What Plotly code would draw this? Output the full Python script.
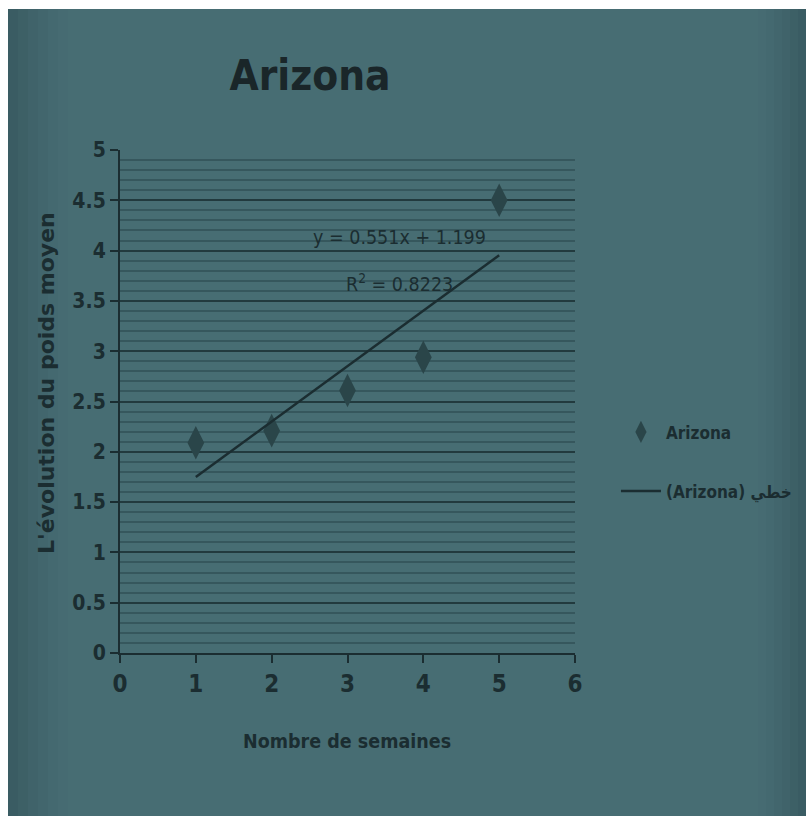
import plotly.graph_objects as go

weeks = [1, 2, 3, 4, 5]
weight = [2.09, 2.21, 2.61, 2.94, 4.5]
slope = 0.551
intercept = 1.199
r2 = 0.8223
x_ticks = [0, 1, 2, 3, 4, 5, 6]
y_ticks = [0, 0.5, 1, 1.5, 2, 2.5, 3, 3.5, 4, 4.5, 5]
y_tick_text = ["0", "0.5", "1", "1.5", "2", "2.5", "3", "3.5", "4", "4.5", "5"]

trend_x = [weeks[0], weeks[-1]]
trend_y = [slope * v + intercept for v in trend_x]

BG = "#476d73"
INK = "#1b2d31"
FONT = "DejaVu Sans Condensed, Liberation Sans Narrow, sans-serif"

fig = go.Figure()
fig.add_trace(go.Scatter(
    x=weeks, y=weight, mode="markers", name="Arizona", legendgroup="a",
    marker=dict(symbol="diamond-tall", size=24, color="#2a4549",
                line=dict(width=0)),
))
fig.add_trace(go.Scatter(
    x=trend_x, y=trend_y, mode="lines", name="(Arizona) خطي", legendgroup="b",
    line=dict(color=INK, width=2.5),
))

fig.update_layout(
    width=806, height=816,
    margin=dict(l=120, r=231, t=150, b=163, autoexpand=False),
    paper_bgcolor=BG, plot_bgcolor=BG,
    font=dict(family=FONT, color=INK, size=20),
    showlegend=True,
    legend=dict(x=1.09, y=0.38, xanchor="left", yanchor="middle",
                bgcolor="rgba(0,0,0,0)", font=dict(size=17, family=FONT, color=INK, weight="bold"),
                tracegroupgap=34, itemwidth=40),
    title=dict(text="Arizona", xref="container", x=310 / 806, xanchor="center", y=1 - 75 / 816,
               yanchor="middle", font=dict(size=42, family=FONT, color="#1a2629", weight="bold")),
)

fig.update_xaxes(
    range=[0, 6], tickvals=x_ticks, ticktext=[str(v) for v in x_ticks],
    showgrid=False, zeroline=False, showline=True, linecolor=INK, linewidth=2,
    ticks="outside", ticklen=8, tickwidth=2, tickcolor=INK,
    tickfont=dict(size=24, family=FONT, color=INK, weight="bold"),
)
fig.update_yaxes(
    range=[0, 5], tickvals=y_ticks, ticktext=y_tick_text,
    showgrid=True, gridcolor="rgba(25,45,50,0.7)", gridwidth=2,
    minor=dict(dtick=0.1, showgrid=True, gridcolor="rgba(30,55,60,0.4)", gridwidth=1.5),
    zeroline=False, showline=True, linecolor=INK, linewidth=2,
    ticks="outside", ticklen=8, tickwidth=2, tickcolor=INK,
    tickfont=dict(size=21, family=FONT, color=INK, weight="bold"),
)

# axis titles
fig.add_annotation(text="Nombre de semaines", xref="paper", yref="paper",
                   x=(347 - 120) / 455, y=(653 - 755) / 503, showarrow=False,
                   font=dict(size=19.5, family=FONT, color=INK, weight="bold"))
fig.add_annotation(text="L'évolution du poids moyen", xref="paper", yref="paper",
                   x=(46 - 120) / 455, y=(653 - 383) / 503, showarrow=False, textangle=-90,
                   xanchor="center", yanchor="middle",
                   font=dict(size=22, family="DejaVu Sans, sans-serif", color=INK, weight="bold"))

# trendline labels
fig.add_annotation(text=f"y = {slope}x + {intercept}", x=3.69, y=4.13, showarrow=False,
                   font=dict(size=19.5, family=FONT, color=INK))
fig.add_annotation(text=f"R<sup>2</sup> = {r2}", x=3.69, y=3.68, showarrow=False,
                   font=dict(size=19.5, family=FONT, color=INK))

# photographed vignette and white borders
for i, a in enumerate([0.06, 0.05, 0.04, 0.03, 0.02, 0.01]):
    fig.add_shape(type="rect", xref="paper", yref="paper", layer="below",
                  x0=(8 - 120) / 455, x1=(8 + 10 * (i + 1) - 120) / 455,
                  y0=(653 - 816) / 503, y1=(653 - 9) / 503,
                  fillcolor=f"rgba(20,40,45,{a})", line=dict(width=0))
    fig.add_shape(type="rect", xref="paper", yref="paper", layer="below",
                  x0=(806 - 8 * (i + 1) - 120) / 455, x1=(806 - 120) / 455,
                  y0=(653 - 816) / 503, y1=(653 - 9) / 503,
                  fillcolor=f"rgba(20,40,45,{a})", line=dict(width=0))
fig.add_shape(type="rect", xref="paper", yref="paper", layer="above",
              x0=(0 - 120) / 455, x1=(8 - 120) / 455, y0=(653 - 816) / 503, y1=653 / 503,
              fillcolor="white", line=dict(width=0))
fig.add_shape(type="rect", xref="paper", yref="paper", layer="above",
              x0=(0 - 120) / 455, x1=(806 - 120) / 455, y0=(653 - 9) / 503, y1=653 / 503,
              fillcolor="white", line=dict(width=0))

fig.write_html("out.html")
